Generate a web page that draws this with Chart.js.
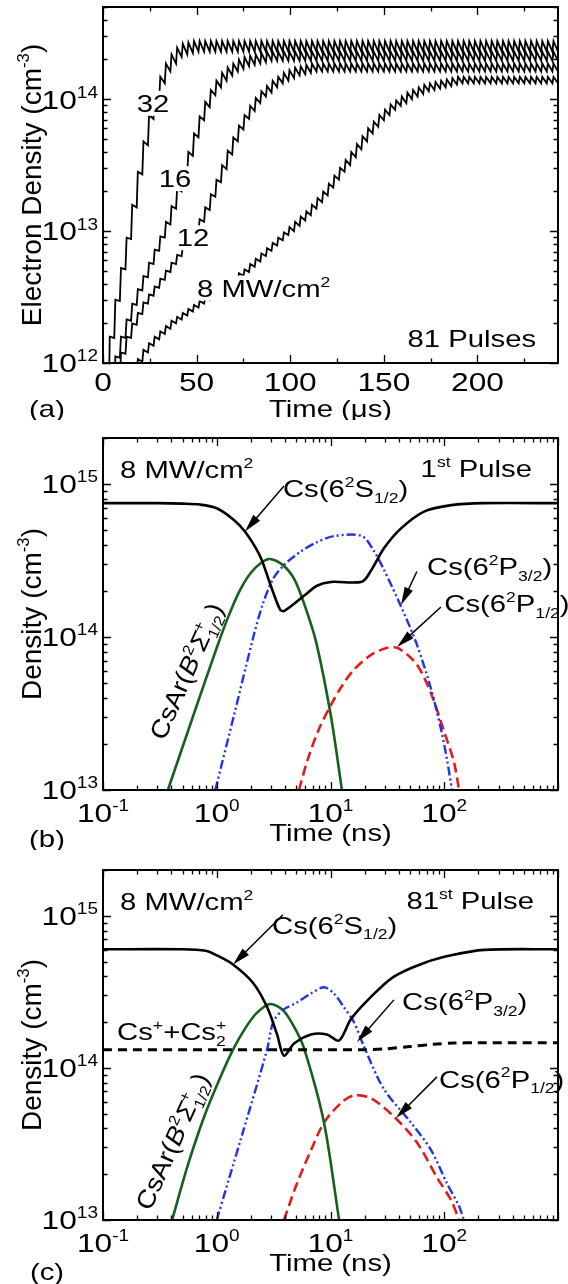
<!DOCTYPE html>
<html>
<head>
<meta charset="utf-8">
<script src="https://cdn.jsdelivr.net/npm/chart.js@4.4.1/dist/chart.umd.min.js"></script>
<style>
  html, body { margin: 0; padding: 0; background: #fff; }
  body { width: 568px; height: 1284px; position: relative; overflow: hidden; }
  .panel { position: absolute; left: 0; width: 568px; }
</style>
</head>
<body>
<div class="panel" style="top:0;height:420px"><canvas id="chartA"></canvas></div>
<div class="panel" style="top:420px;height:430px"><canvas id="chartB"></canvas></div>
<div class="panel" style="top:850px;height:434px"><canvas id="chartC"></canvas></div>
<script>
// ---- panel (a): electron density over 81 pulses, log10(cm^-3) ----
const pulseTimes = [
  0, 3, 6, 9, 12, 15, 18, 21, 24, 27, 30, 33, 36, 39, 42, 45, 48, 51, 54, 57,
  60, 63, 66, 69, 72, 75, 78, 81, 84, 87, 90, 93, 96, 99, 102, 105, 108, 111, 114, 117,
  120, 123, 126, 129, 132, 135, 138, 141, 144, 147, 150, 153, 156, 159, 162, 165, 168, 171, 174, 177,
  180, 183, 186, 189, 192, 195, 198, 201, 204, 207, 210, 213, 216, 219, 222, 225, 228, 231, 234, 237,
  240
];
const endTime = 243;
const riseTime = 0.6;
const intensities = ["32", "16", "12", "8"];

// value just after each pulse
const ne32Peak = [
  11.60, 12.20, 12.48, 12.72, 12.95, 13.20, 13.45, 13.68, 13.88, 14.04,
  14.17, 14.27, 14.34, 14.39, 14.42, 14.43, 14.44, 14.44, 14.44, 14.44,
  14.44, 14.44, 14.44, 14.44, 14.44, 14.44, 14.44, 14.44, 14.44, 14.44,
  14.44, 14.44, 14.44, 14.44, 14.44, 14.44, 14.44, 14.44, 14.44, 14.44,
  14.44, 14.44, 14.44, 14.44, 14.44, 14.44, 14.44, 14.44, 14.44, 14.44,
  14.44, 14.44, 14.44, 14.44, 14.44, 14.44, 14.44, 14.44, 14.44, 14.44,
  14.44, 14.44, 14.44, 14.44, 14.44, 14.44, 14.44, 14.44, 14.44, 14.44,
  14.44, 14.44, 14.44, 14.44, 14.44, 14.44, 14.44, 14.44, 14.44, 14.44,
  14.44
];
// value just before each pulse (last entry = end of run)
const ne32Trough = [
  11.00, 11.59, 12.19, 12.47, 12.71, 12.94, 13.18, 13.43, 13.65, 13.85,
  14.00, 14.12, 14.21, 14.27, 14.32, 14.34, 14.35, 14.36, 14.36, 14.36,
  14.36, 14.36, 14.36, 14.36, 14.36, 14.36, 14.36, 14.36, 14.36, 14.36,
  14.36, 14.36, 14.36, 14.36, 14.36, 14.36, 14.36, 14.36, 14.36, 14.36,
  14.36, 14.36, 14.36, 14.36, 14.36, 14.36, 14.36, 14.36, 14.36, 14.36,
  14.36, 14.36, 14.36, 14.36, 14.36, 14.36, 14.36, 14.36, 14.36, 14.36,
  14.36, 14.36, 14.36, 14.36, 14.36, 14.36, 14.36, 14.36, 14.36, 14.36,
  14.36, 14.36, 14.36, 14.36, 14.36, 14.36, 14.36, 14.36, 14.36, 14.36,
  14.36, 14.36
];
const ne16Peak = [
  11.30, 11.75, 12.05, 12.20, 12.33, 12.45, 12.56, 12.66, 12.76, 12.86,
  12.96, 13.07, 13.19, 13.32, 13.46, 13.60, 13.74, 13.87, 13.98, 14.07,
  14.14, 14.20, 14.24, 14.27, 14.30, 14.32, 14.33, 14.34, 14.35, 14.36,
  14.36, 14.36, 14.36, 14.36, 14.36, 14.36, 14.36, 14.36, 14.36, 14.36,
  14.36, 14.36, 14.36, 14.36, 14.36, 14.36, 14.36, 14.36, 14.36, 14.36,
  14.36, 14.36, 14.36, 14.36, 14.36, 14.36, 14.36, 14.36, 14.36, 14.36,
  14.36, 14.36, 14.36, 14.36, 14.36, 14.36, 14.36, 14.36, 14.36, 14.36,
  14.36, 14.36, 14.36, 14.36, 14.36, 14.36, 14.36, 14.36, 14.36, 14.36,
  14.36
];
const ne16Trough = [
  10.80, 11.29, 11.74, 12.04, 12.19, 12.32, 12.44, 12.55, 12.65, 12.75,
  12.85, 12.95, 13.05, 13.17, 13.30, 13.44, 13.57, 13.71, 13.84, 13.94,
  14.03, 14.09, 14.14, 14.18, 14.21, 14.23, 14.25, 14.26, 14.27, 14.28,
  14.29, 14.29, 14.29, 14.29, 14.29, 14.29, 14.29, 14.29, 14.29, 14.29,
  14.29, 14.29, 14.29, 14.29, 14.29, 14.29, 14.29, 14.29, 14.29, 14.29,
  14.29, 14.29, 14.29, 14.29, 14.29, 14.29, 14.29, 14.29, 14.29, 14.29,
  14.29, 14.29, 14.29, 14.29, 14.29, 14.29, 14.29, 14.29, 14.29, 14.29,
  14.29, 14.29, 14.29, 14.29, 14.29, 14.29, 14.29, 14.29, 14.29, 14.29,
  14.29, 14.29
];
const ne12Peak = [
  11.20, 11.60, 11.85, 12.08, 12.20, 12.30, 12.38, 12.46, 12.52, 12.58,
  12.64, 12.70, 12.76, 12.82, 12.88, 12.94, 13.01, 13.09, 13.18, 13.28,
  13.39, 13.50, 13.61, 13.71, 13.80, 13.88, 13.95, 14.01, 14.06, 14.10,
  14.14, 14.17, 14.20, 14.22, 14.24, 14.25, 14.26, 14.27, 14.27, 14.27,
  14.27, 14.27, 14.27, 14.27, 14.27, 14.27, 14.27, 14.27, 14.27, 14.27,
  14.27, 14.27, 14.27, 14.27, 14.27, 14.27, 14.27, 14.27, 14.27, 14.27,
  14.27, 14.27, 14.27, 14.27, 14.27, 14.27, 14.27, 14.27, 14.27, 14.27,
  14.27, 14.27, 14.27, 14.27, 14.27, 14.27, 14.27, 14.27, 14.27, 14.27,
  14.27
];
const ne12Trough = [
  10.70, 11.19, 11.59, 11.84, 12.07, 12.19, 12.29, 12.37, 12.45, 12.51,
  12.57, 12.63, 12.69, 12.75, 12.81, 12.87, 12.93, 12.99, 13.07, 13.16,
  13.26, 13.37, 13.47, 13.58, 13.68, 13.77, 13.85, 13.91, 13.97, 14.02,
  14.05, 14.09, 14.12, 14.14, 14.16, 14.18, 14.19, 14.20, 14.21, 14.21,
  14.21, 14.21, 14.21, 14.21, 14.21, 14.21, 14.21, 14.21, 14.21, 14.21,
  14.21, 14.21, 14.21, 14.21, 14.21, 14.21, 14.21, 14.21, 14.21, 14.21,
  14.21, 14.21, 14.21, 14.21, 14.21, 14.21, 14.21, 14.21, 14.21, 14.21,
  14.21, 14.21, 14.21, 14.21, 14.21, 14.21, 14.21, 14.21, 14.21, 14.21,
  14.21, 14.21
];
const ne8Peak = [
  11.30, 11.50, 11.65, 11.77, 11.87, 11.95, 12.03, 12.10, 12.15, 12.20,
  12.24, 12.28, 12.32, 12.35, 12.38, 12.41, 12.44, 12.47, 12.50, 12.53,
  12.56, 12.59, 12.62, 12.65, 12.68, 12.71, 12.75, 12.79, 12.83, 12.87,
  12.91, 12.95, 12.99, 13.03, 13.07, 13.11, 13.15, 13.20, 13.25, 13.30,
  13.36, 13.42, 13.48, 13.54, 13.60, 13.66, 13.72, 13.78, 13.83, 13.88,
  13.92, 13.96, 13.99, 14.02, 14.05, 14.07, 14.09, 14.11, 14.12, 14.13,
  14.14, 14.15, 14.16, 14.17, 14.17, 14.17, 14.17, 14.17, 14.17, 14.17,
  14.17, 14.17, 14.17, 14.17, 14.17, 14.17, 14.17, 14.17, 14.17, 14.17,
  14.17
];
const ne8Trough = [
  11.00, 11.28, 11.48, 11.63, 11.75, 11.85, 11.93, 12.01, 12.08, 12.13,
  12.18, 12.22, 12.26, 12.30, 12.33, 12.36, 12.39, 12.42, 12.45, 12.48,
  12.51, 12.54, 12.57, 12.60, 12.63, 12.66, 12.69, 12.73, 12.77, 12.81,
  12.85, 12.89, 12.93, 12.97, 13.00, 13.04, 13.08, 13.12, 13.17, 13.22,
  13.27, 13.33, 13.39, 13.45, 13.50, 13.56, 13.62, 13.68, 13.74, 13.79,
  13.84, 13.88, 13.92, 13.95, 13.97, 14.00, 14.02, 14.04, 14.06, 14.07,
  14.08, 14.09, 14.10, 14.11, 14.12, 14.12, 14.12, 14.12, 14.12, 14.12,
  14.12, 14.12, 14.12, 14.12, 14.12, 14.12, 14.12, 14.12, 14.12, 14.12,
  14.12, 14.12
];

// ---- panel (b): 1st pulse, time in ns, log10 density ----
const b6sTime = [0.1, 0.3, 0.5, 0.71, 1.0, 1.39, 1.77, 2.4, 2.94, 3.6, 3.9, 5.85, 7.6, 10.1, 18.9, 22.7, 29.5, 41.7, 66.4, 115, 223, 1000];
const b6sLogN = [14.875, 14.875, 14.872, 14.866, 14.842, 14.77, 14.69, 14.53, 14.35, 14.18, 14.17, 14.27, 14.335, 14.36, 14.362, 14.434, 14.58, 14.71, 14.82, 14.862, 14.875, 14.875];
const bCsArTime = [0.372, 0.631, 1.0, 1.259, 1.585, 1.995, 2.512, 2.94, 3.82, 4.79, 5.85, 7.46, 10.1, 12.6];
const bCsArLogN = [13.0, 13.5, 13.93, 14.13, 14.3, 14.42, 14.49, 14.51, 14.47, 14.38, 14.22, 13.97, 13.48, 13.0];
const b6p32Time = [0.97, 1.42, 2.08, 2.55, 3.13, 3.9, 5.5, 7.6, 10.7, 18.9, 24.2, 29.5, 41.7, 57.5, 76.6, 93.5, 105.7, 117];
const b6p32LogN = [13.0, 13.49, 13.99, 14.22, 14.38, 14.47, 14.56, 14.62, 14.66, 14.66, 14.56, 14.44, 14.2, 13.95, 13.66, 13.4, 13.2, 13.0];
const b6p12Time = [5.28, 6.31, 7.94, 10, 12.6, 15.8, 22.4, 31.6, 39.8, 57.5, 76.6, 100, 122, 135];
const b6p12LogN = [13.0, 13.2, 13.4, 13.55, 13.68, 13.78, 13.88, 13.93, 13.925, 13.82, 13.63, 13.38, 13.18, 13.0];

// ---- panel (c): 81st pulse ----
const c6sTime = [0.1, 0.5, 0.8, 1.0, 1.39, 2.08, 2.77, 3.39, 3.9, 4.78, 6.75, 9.3, 11.9, 15.1, 22.7, 36.1, 66.4, 115, 223, 1000];
const c6sLogN = [14.78, 14.78, 14.77, 14.74, 14.68, 14.56, 14.40, 14.22, 14.08, 14.16, 14.22, 14.22, 14.18, 14.32, 14.467, 14.6, 14.69, 14.74, 14.776, 14.78];
const cCsArTime = [0.405, 0.562, 0.794, 1.122, 1.413, 1.778, 2.239, 2.94, 3.82, 4.79, 5.85, 8.77, 11.9];
const cCsArLogN = [13.0, 13.37, 13.7, 13.97, 14.13, 14.26, 14.36, 14.42, 14.38, 14.27, 14.13, 13.64, 13.0];
const c6p32Time = [1.0, 1.67, 2.77, 3.13, 3.8, 5.07, 6.75, 8.77, 10.7, 13.1, 16.1, 19.7, 29.5, 51, 76.6, 105.7, 135, 149];
const c6p32LogN = [13.0, 13.56, 14.12, 14.3, 14.38, 14.43, 14.49, 14.53, 14.49, 14.4, 14.3, 14.14, 13.86, 13.64, 13.46, 13.24, 13.09, 13.0];
const c6p12Time = [3.9, 5.07, 6.75, 8.77, 12.4, 16.1, 22.7, 36.1, 57.5, 86.3, 115, 135];
const c6p12LogN = [13.0, 13.24, 13.46, 13.64, 13.77, 13.82, 13.8, 13.68, 13.51, 13.28, 13.13, 13.0];
const cIonTime = [0.1, 1, 10, 20, 30, 50, 80, 120, 200, 400, 1000];
const cIonLogN = [14.12, 14.12, 14.12, 14.12, 14.125, 14.14, 14.155, 14.163, 14.165, 14.165, 14.165];

// tick labels
const aXTicks = [0, 50, 100, 150, 200];
const aYTicks = [1e12, 1e13, 1e14];
const aYTickText = ["10^{12}", "10^{13}", "10^{14}"];
const nsTicks = [0.1, 1, 10, 100];
const nsTickText = ["10^{-1}", "10^{0}", "10^{1}", "10^{2}"];
const bYTicks = [1e13, 1e14, 1e15];
const bYTickText = ["10^{13}", "10^{14}", "10^{15}"];

const FONT = '"Liberation Sans", Arial, Helvetica, sans-serif';
const SX = 1.22; // text in the figure is drawn a bit wide
const GREEN = "#17601a";
const BLUE = "#2233e6";
const RED = "#e41b1b";

const lg = (v) => Math.pow(10, v);
const toPoints = (ts, ns) => ts.map((t, i) => ({ x: t, y: lg(ns[i]) }));

const sawtooth = (peaks, troughs) => {
  const pts = [];
  pulseTimes.forEach((t, k) => {
    pts.push({ x: t, y: lg(troughs[k]) });
    pts.push({ x: t + riseTime, y: lg(peaks[k]) });
  });
  pts.push({ x: endTime, y: lg(troughs[pulseTimes.length]) });
  return pts;
};

const logMinor = (lo, hi, max) => {
  const out = [];
  for (let e = lo; e <= hi; e++)
    for (let m = 2; m <= 9; m++) if (m * Math.pow(10, e) <= max * 1.0001) out.push(m * Math.pow(10, e));
  return out;
};

// rich text: ^{..} superscript, _{..} subscript, *..* italic
const parseRich = (s) => {
  const segs = [];
  let buf = "", it = false, i = 0;
  const flush = () => { if (buf) { segs.push({ t: buf, k: 0, it }); buf = ""; } };
  while (i < s.length) {
    const c = s[i];
    if ((c === "^" || c === "_") && s[i + 1] === "{") {
      flush();
      const j = s.indexOf("}", i);
      segs.push({ t: s.slice(i + 2, j), k: c === "^" ? 1 : -1, it });
      i = j + 1;
    } else if (c === "*") {
      flush(); it = !it; i++;
    } else { buf += c; i++; }
  }
  flush();
  return segs;
};

const drawRich = (ctx, str, x, y, o) => {
  const size = o.size || 24;
  const sx = o.sx == null ? SX : o.sx;
  const items = [];
  let pen = 0, prev = null;
  parseRich(str).forEach((sg) => {
    const fs = sg.k ? size * 0.6 : size;
    const font = (sg.it ? "italic " : "") + fs.toFixed(1) + "px " + FONT;
    ctx.font = font;
    const w = ctx.measureText(sg.t).width;
    let x0 = pen;
    if (sg.k === -1 && prev && prev.k === 1) {
      x0 = prev.x0;
      pen = x0 + Math.max(prev.w, w);
    } else pen = x0 + w;
    const dy = sg.k === 1 ? -0.42 * size : sg.k === -1 ? 0.24 * size : 0;
    prev = { t: sg.t, font, x0, w, dy, k: sg.k };
    items.push(prev);
  });
  const W = pen;
  const off = o.align === "center" ? -W / 2 : o.align === "right" ? -W : 0;
  ctx.save();
  ctx.translate(x, y);
  if (o.rot) ctx.rotate((o.rot * Math.PI) / 180);
  ctx.scale(sx, 1);
  if (o.bg) {
    ctx.fillStyle = "#fff";
    ctx.fillRect(off - 2, -size * 0.52, W + 4, size * 1.04);
  }
  ctx.fillStyle = "#000";
  ctx.textAlign = "left";
  ctx.textBaseline = "alphabetic";
  items.forEach((it) => {
    ctx.font = it.font;
    ctx.fillText(it.t, off + it.x0, size * 0.36 + it.dy);
  });
  ctx.restore();
};

const drawArrow = (ctx, x1, y1, x2, y2) => {
  const a = Math.atan2(y2 - y1, x2 - x1);
  const L = 18, H = 4.5;
  ctx.save();
  ctx.strokeStyle = "#000";
  ctx.lineWidth = 1.5;
  ctx.beginPath();
  ctx.moveTo(x1, y1);
  ctx.lineTo(x2 - 0.8 * L * Math.cos(a), y2 - 0.8 * L * Math.sin(a));
  ctx.stroke();
  ctx.translate(x2, y2);
  ctx.rotate(a);
  ctx.fillStyle = "#000";
  ctx.beginPath();
  ctx.moveTo(0, 0);
  ctx.lineTo(-L, -H);
  ctx.lineTo(-L, H);
  ctx.closePath();
  ctx.fill();
  ctx.restore();
};

// frame, inward ticks, labels and annotations (Tecplot look)
const decoPlugin = (d) => ({
  id: "deco",
  afterDraw(chart) {
    const ctx = chart.ctx, ca = chart.chartArea;
    const xs = chart.scales.x, ys = chart.scales.y;
    ctx.save();
    ctx.strokeStyle = "#000";
    ctx.lineWidth = 1.3;
    const tick = (vals, len, horiz) => {
      vals.forEach((v) => {
        ctx.beginPath();
        if (horiz) {
          const p = Math.round(xs.getPixelForValue(v)) + 0.5;
          ctx.moveTo(p, ca.bottom); ctx.lineTo(p, ca.bottom - len);
          ctx.moveTo(p, ca.top); ctx.lineTo(p, ca.top + len);
        } else {
          const p = Math.round(ys.getPixelForValue(v)) + 0.5;
          ctx.moveTo(ca.left, p); ctx.lineTo(ca.left + len, p);
          ctx.moveTo(ca.right, p); ctx.lineTo(ca.right - len, p);
        }
        ctx.stroke();
      });
    };
    tick(d.xMajor, 8, true);
    tick(d.xMinor, 4.5, true);
    tick(d.yMajor, 8, false);
    tick(d.yMinor, 4.5, false);
    ctx.lineWidth = 2;
    ctx.strokeRect(ca.left, ca.top, ca.right - ca.left, ca.bottom - ca.top);
    ctx.restore();

    d.xLabels.forEach(([v, s]) =>
      drawRich(ctx, s, xs.getPixelForValue(v), ca.bottom + d.xLabelDy, { size: 26, align: "center" }));
    d.yLabels.forEach(([v, s]) =>
      drawRich(ctx, s, ca.left - 5, ys.getPixelForValue(v), { size: 26, align: "right" }));

    const midX = (ca.left + ca.right) / 2, midY = (ca.top + ca.bottom) / 2;
    drawRich(ctx, d.xTitle, midX, ca.bottom + d.titleDy, { size: 24, align: "center" });
    drawRich(ctx, d.yTitle, 31, midY, { size: 28, align: "center", rot: -90, sx: 1 });
    drawRich(ctx, d.tag, 47, ca.bottom + d.tagDy, { size: 24, align: "center" });

    d.texts.forEach((t) =>
      drawRich(ctx, t.s, xs.getPixelForValue(t.x), ys.getPixelForValue(t.y),
        { size: t.size || 24, align: t.align, bg: t.bg, rot: t.rot, sx: t.sx }));
    d.arrows.forEach((a) =>
      drawArrow(ctx, xs.getPixelForValue(a[0]), ys.getPixelForValue(a[1]),
        xs.getPixelForValue(a[2]), ys.getPixelForValue(a[3])));
  },
});

const line = (data, color, width, dash, tension) => ({
  data,
  borderColor: color,
  borderWidth: width,
  borderDash: dash || [],
  pointRadius: 0,
  fill: false,
  tension: tension || 0,
});

const baseOptions = (xScale, yScale, padding) => ({
  responsive: true,
  maintainAspectRatio: false,
  animation: false,
  layout: { padding },
  plugins: { legend: { display: false }, tooltip: { enabled: false } },
  scales: { x: Object.assign({ display: false }, xScale), y: Object.assign({ display: false }, yScale) },
});

// panel (a)
new Chart(document.getElementById("chartA"), {
  type: "line",
  data: {
    datasets: [
      line(sawtooth(ne32Peak, ne32Trough), "#000", 1.8),
      line(sawtooth(ne16Peak, ne16Trough), "#000", 1.8),
      line(sawtooth(ne12Peak, ne12Trough), "#000", 1.8),
      line(sawtooth(ne8Peak, ne8Trough), "#000", 1.8),
    ],
  },
  options: baseOptions(
    { type: "linear", min: 0, max: endTime },
    { type: "logarithmic", min: 1e12, max: 5e14 },
    { left: 103, right: 10, top: 7, bottom: 57 }
  ),
  plugins: [decoPlugin({
    xMajor: aXTicks, xMinor: [25, 75, 125, 175, 225],
    yMajor: aYTicks, yMinor: logMinor(12, 14, 5e14),
    xLabels: aXTicks.map((v) => [v, String(v)]), xLabelDy: 19,
    yLabels: aYTicks.map((v, i) => [v, aYTickText[i]]),
    xTitle: "Time (\u03bcs)", titleDy: 45, tag: "(a)", tagDy: 45,
    yTitle: "Electron Density (cm^{-3})",
    texts: [
      { s: intensities[0], x: 26.7, y: 9.3e13, align: "center", bg: true },
      { s: intensities[1], x: 38.5, y: 2.5e13, align: "center", bg: true },
      { s: intensities[2], x: 48.1, y: 8.9e12, align: "center", bg: true },
      { s: intensities[3] + " MW/cm^{2}", x: 50.2, y: 3.7e12, align: "left", bg: true },
      { s: "81 Pulses", x: 231.3, y: 1.55e12, align: "right" },
    ],
    arrows: [],
  })],
});

const nsMinor = logMinor(-1, 2, 1000);
const denMinor = logMinor(13, 15, 2e15);
const SMOOTH = 0.3;

// panel (b)
new Chart(document.getElementById("chartB"), {
  type: "line",
  data: {
    datasets: [
      line(toPoints(b6sTime, b6sLogN), "#000", 2.6, null, SMOOTH),
      line(toPoints(bCsArTime, bCsArLogN), GREEN, 2.6, null, SMOOTH),
      line(toPoints(b6p32Time, b6p32LogN), BLUE, 2.4, [9, 3, 2, 3, 2, 3], SMOOTH),
      line(toPoints(b6p12Time, b6p12LogN), RED, 2.6, [10, 5], SMOOTH),
    ],
  },
  options: baseOptions(
    { type: "logarithmic", min: 0.1, max: 1000 },
    { type: "logarithmic", min: 1e13, max: 2e15 },
    { left: 103, right: 10, top: 18, bottom: 60 }
  ),
  plugins: [decoPlugin({
    xMajor: [0.1, 1, 10, 100, 1000], xMinor: nsMinor,
    yMajor: bYTicks, yMinor: denMinor,
    xLabels: nsTicks.map((v, i) => [v, nsTickText[i]]), xLabelDy: 23,
    yLabels: bYTicks.map((v, i) => [v, bYTickText[i]]),
    xTitle: "Time (ns)", titleDy: 42, tag: "(b)", tagDy: 48,
    yTitle: "Density (cm^{-3})",
    texts: [
      { s: "8 MW/cm^{2}", x: 0.141, y: 1.24e15, align: "left" },
      { s: "1^{st} Pulse", x: 590, y: 1.27e15, align: "right" },
      { s: "Cs(6^{2}S_{1/2})", x: 3.82, y: 9.4e14, align: "left" },
      { s: "Cs(6^{2}P_{3/2})", x: 70.5, y: 2.9e14, align: "left" },
      { s: "Cs(6^{2}P_{1/2})", x: 100, y: 1.65e14, align: "left" },
      { s: "CsAr(*B*^{2}*\u03a3*^{+}_{1/2})", x: 0.537, y: 6.0e13, align: "center", rot: -66, size: 25, sx: 1.1 },
    ],
    arrows: [
      [3.9, 9.7e14, 1.77, 4.9e14],
      [57.5, 2.68e14, 41.7, 1.62e14],
      [93.5, 1.57e14, 38.5, 8.6e13],
    ],
  })],
});

// panel (c)
new Chart(document.getElementById("chartC"), {
  type: "line",
  data: {
    datasets: [
      line(toPoints(cIonTime, cIonLogN), "#000", 3, [9, 6], SMOOTH),
      line(toPoints(c6sTime, c6sLogN), "#000", 2.6, null, SMOOTH),
      line(toPoints(cCsArTime, cCsArLogN), GREEN, 2.6, null, SMOOTH),
      line(toPoints(c6p32Time, c6p32LogN), BLUE, 2.4, [9, 3, 2, 3, 2, 3], SMOOTH),
      line(toPoints(c6p12Time, c6p12LogN), RED, 2.6, [10, 5], SMOOTH),
    ],
  },
  options: baseOptions(
    { type: "logarithmic", min: 0.1, max: 1000 },
    { type: "logarithmic", min: 1e13, max: 2e15 },
    { left: 103, right: 10, top: 20, bottom: 64 }
  ),
  plugins: [decoPlugin({
    xMajor: [0.1, 1, 10, 100, 1000], xMinor: nsMinor,
    yMajor: bYTicks, yMinor: denMinor,
    xLabels: nsTicks.map((v, i) => [v, nsTickText[i]]), xLabelDy: 23,
    yLabels: bYTicks.map((v, i) => [v, bYTickText[i]]),
    xTitle: "Time (ns)", titleDy: 42, tag: "(c)", tagDy: 51,
    yTitle: "Density (cm^{-3})",
    texts: [
      { s: "8 MW/cm^{2}", x: 0.141, y: 1.24e15, align: "left" },
      { s: "81^{st} Pulse", x: 615, y: 1.27e15, align: "right" },
      { s: "Cs(6^{2}S_{1/2})", x: 3.06, y: 8.7e14, align: "left" },
      { s: "Cs(6^{2}P_{3/2})", x: 42.6, y: 2.72e14, align: "left" },
      { s: "Cs^{+}+Cs^{+}_{2}", x: 0.133, y: 1.73e14, align: "left" },
      { s: "Cs(6^{2}P_{1/2})", x: 90, y: 8.47e13, align: "left" },
      { s: "CsAr(*B*^{2}*\u03a3*^{+}_{1/2})", x: 0.405, y: 3.3e13, align: "center", rot: -66, size: 25, sx: 1.1 },
    ],
    arrows: [
      [3.82, 1.016e15, 1.39, 4.79e14],
      [36.1, 2.8e14, 17.1, 1.48e14],
      [86.3, 8.73e13, 37.7, 4.69e13],
    ],
  })],
});
</script>
</body>
</html>
